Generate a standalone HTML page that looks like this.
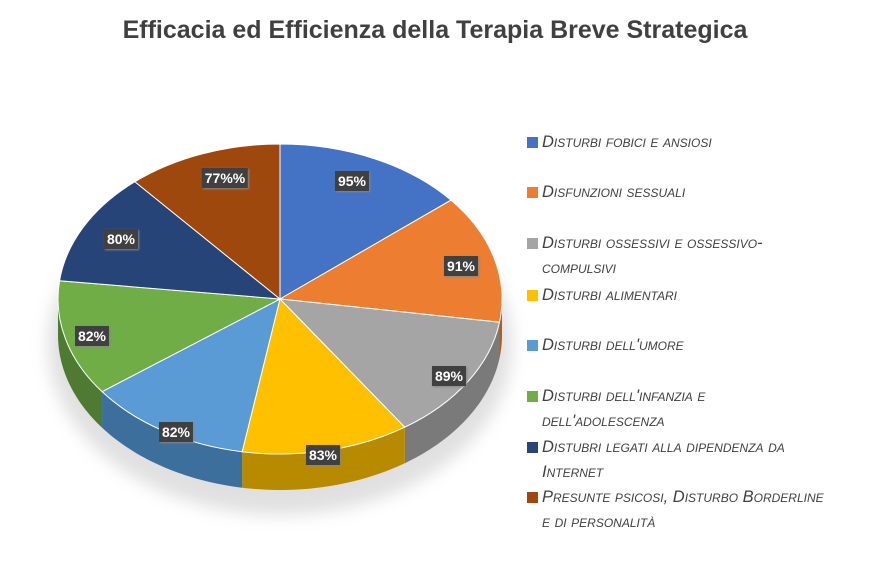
<!DOCTYPE html>
<html><head><meta charset="utf-8"><style>
body{margin:0;background:#fff;width:870px;height:583px;overflow:hidden;position:relative;font-family:"Liberation Sans",sans-serif}
.title{position:absolute;left:0;width:870px;top:16px;text-align:center;font-size:25px;font-weight:bold;color:#404040}
.leg{position:absolute;left:527px;font-size:16.5px;font-style:italic;font-variant:small-caps;color:#404040;line-height:25px;width:340px}
.leg i{position:absolute;left:0;top:7px;width:11px;height:11px}
.leg span{display:block;padding-left:15px}
.lab{position:absolute;background:#404040;color:#fff;font-weight:bold;font-size:14px;padding:2px 3px;transform:translate(-50%,-50%);box-shadow:1px 1px 2px #888}
</style></head><body>
<div class="title">Efficacia ed Efficienza della Terapia Breve Strategica</div>
<svg id="s" width="870" height="583" style="position:absolute;left:0;top:0">
<defs><filter id="b"><feGaussianBlur stdDeviation="8"/></filter></defs>
<ellipse cx="280" cy="345" rx="232" ry="170" fill="#ccc" filter="url(#b)" opacity="0.6"/>
</svg>
<script>
var s=document.getElementById('s'),cx=280,cy=299,rx=222,ry=155,d=36;
var v=[95,91,89,83,82,82,80,77],tot=679;
var c=['#4472C4','#ED7D31','#A5A5A5','#FFC000','#5B9BD5','#70AD47','#264478','#9E480E'];
var dk=['#2f5597','#b35c1e','#7a7a7a','#b88a00','#3d6f9c','#4e7a31','#1a2f54','#6e320a'];
function P(a,o){return [cx+rx*Math.sin(a),cy-ry*Math.cos(a)+(o||0)];}
var a=0,sides='',tops='';
for(var i=0;i<8;i++){var a2=a+v[i]/tot*2*Math.PI;
 var s1=Math.max(a,Math.PI/2),s2=Math.min(a2,3*Math.PI/2);
 if(s2>s1){var pts=[];for(var t=0;t<=40;t++){var q=P(s1+(s2-s1)*t/40);pts.push(q);}
  var dd='M'+pts.map(p=>p[0]+','+p[1]).join(' L')+' L'+pts.slice().reverse().map(p=>p[0]+','+(p[1]+d)).join(' L')+'Z';
  sides+='<path d="'+dd+'" fill="'+dk[i]+'"/>';}
 var p1=P(a),p2=P(a2);
 tops+='<path d="M'+cx+','+cy+' L'+p1[0]+','+p1[1]+' A'+rx+','+ry+' 0 0 1 '+p2[0]+','+p2[1]+'Z" fill="'+c[i]+'" stroke="#fff" stroke-width="1"/>';
 a=a2;}
s.innerHTML+=sides+tops;
</script>
<div class="lab" style="left:352px;top:181px">95%</div>
<div class="lab" style="left:461px;top:266px">91%</div>
<div class="lab" style="left:449px;top:376px">89%</div>
<div class="lab" style="left:323px;top:455px">83%</div>
<div class="lab" style="left:176px;top:432px">82%</div>
<div class="lab" style="left:92px;top:336px">82%</div>
<div class="lab" style="left:121px;top:239px">80%</div>
<div class="lab" style="left:225px;top:178px">77%%</div>
<div class="leg" style="top:130px"><i style="background:#4472C4"></i><span>Disturbi fobici e ansiosi</span></div>
<div class="leg" style="top:180px"><i style="background:#ED7D31"></i><span>Disfunzioni sessuali</span></div>
<div class="leg" style="top:231px"><i style="background:#A5A5A5"></i><span>Disturbi ossessivi e ossessivo-<br>compulsivi</span></div>
<div class="leg" style="top:283px"><i style="background:#FFC000"></i><span>Disturbi alimentari</span></div>
<div class="leg" style="top:333px"><i style="background:#5B9BD5"></i><span>Disturbi dell'umore</span></div>
<div class="leg" style="top:384px"><i style="background:#70AD47"></i><span>Disturbi dell'infanzia e<br>dell'adolescenza</span></div>
<div class="leg" style="top:435px"><i style="background:#264478"></i><span>Distubri legati alla dipendenza da<br>Internet</span></div>
<div class="leg" style="top:485px"><i style="background:#9E480E"></i><span>Presunte psicosi, Disturbo Borderline<br>e di personalità</span></div>
</body></html>
